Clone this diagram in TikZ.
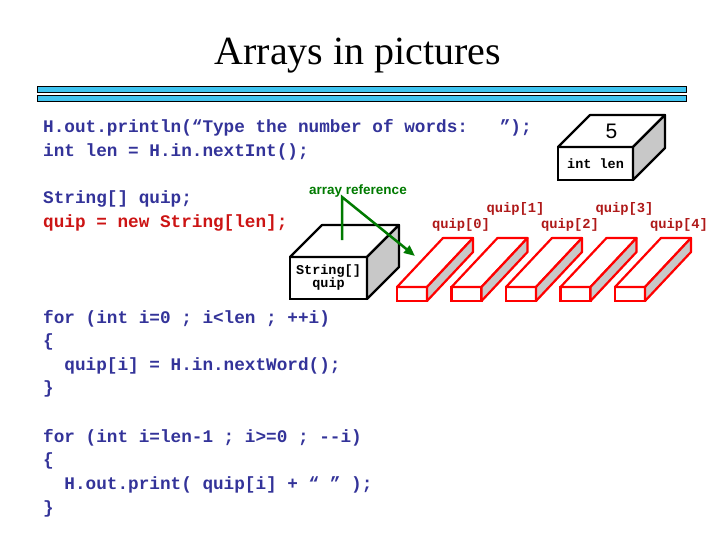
\documentclass[tikz,border=0pt]{standalone}
\usepackage{fontspec}
\setmainfont{Liberation Serif}
\setsansfont{Liberation Sans}
\setmonofont{Liberation Mono}
\usepackage{tikz}
\usetikzlibrary{arrows.meta}
\definecolor{codeblue}{RGB}{51,51,153}
\definecolor{codered}{RGB}{204,20,20}
\definecolor{labelred}{RGB}{175,25,25}
\definecolor{refgreen}{RGB}{0,122,0}
\definecolor{barblue}{RGB}{64,196,240}
\definecolor{sidegray}{RGB}{200,200,200}
\tikzset{
  codeline/.style={
    anchor=base west,
    inner sep=0pt,
    text=codeblue,
    font=\ttfamily\bfseries\fontsize{17.7}{23.7}\selectfont
  },
  barrule/.style={
    draw,
    line width=1pt,
    fill=barblue
  },
  varfront/.style={
    draw,
    line width=2.2pt,
    fill=white,
    align=center,
    inner sep=0pt,
    outer sep=0pt,
    font=\ttfamily\bfseries\fontsize{13.5}{13}\selectfont
  },
  varface/.style={
    draw,
    line width=2.2pt,
    line join=round,
    fill=white
  },
  cellfront/.style={
    draw=red,
    line width=2.2pt,
    fill=white,
    minimum width=30pt,
    minimum height=14pt,
    inner sep=0pt,
    outer sep=0pt
  },
  cellface/.style={
    draw=red,
    line width=2.2pt,
    line join=round,
    fill=white
  },
  celllabel/.style={
    anchor=base,
    inner sep=0pt,
    text=labelred,
    font=\ttfamily\bfseries\fontsize{13.8}{14}\selectfont
  },
  reflabel/.style={
    anchor=base,
    inner sep=0pt,
    text=refgreen,
    font=\sffamily\bfseries\fontsize{13.5}{14}\selectfont
  },
  refline/.style={
    draw=refgreen,
    line width=2.5pt,
    -{Triangle[length=11pt,width=9pt]}
  }
}

\begin{document}
\begin{tikzpicture}[x=1pt,y=-1pt]
  \useasboundingbox (0,0) rectangle (720,540);

  % title and rules
  \node[anchor=base, inner sep=0pt, font=\fontsize{40}{40}\selectfont] (title) at (358,65) {Arrays in pictures};
  \draw[barrule] (37,87) rectangle (686,93);
  \draw[barrule] (37,96) rectangle (686,102);

  % code
  \node[codeline] (ln1) at (43,133) {H.out.println(“Type the number of words:\ \ \ ”);};
  \node[codeline] (ln2) at (43,157) {int len = H.in.nextInt();};
  \node[codeline] (ln3) at (43,204) {String[] quip;};
  \node[codeline, text=codered] (ln4) at (43,228) {quip = new String[len];};
  \node[codeline] (ln5) at (43,323) {for (int i=0 ; i<len ; ++i)};
  \node[codeline] (ln6) at (43,346) {\{};
  \node[codeline] (ln7) at (43,370) {\ \ quip[i] = H.in.nextWord();};
  \node[codeline] (ln8) at (43,393) {\}};
  \node[codeline] (ln9) at (43,442) {for (int i=len-1 ; i>=0 ; -{}-i)};
  \node[codeline] (ln10) at (43,465) {\{};
  \node[codeline] (ln11) at (43,489) {\ \ H.out.print( quip[i] + “ ” );};
  \node[codeline] (ln12) at (43,513) {\}};

  % int len box
  \node[varfront, minimum width=75pt, minimum height=33pt] (lenbox) at (595.5,163.5) {int len};
  \draw[varface] (lenbox.north west) -- ([shift={(32,-32)}]lenbox.north west)
    -- ([shift={(32,-32)}]lenbox.north east) -- (lenbox.north east) -- cycle;
  \draw[varface, fill=sidegray] (lenbox.north east) -- ([shift={(32,-32)}]lenbox.north east)
    -- ([shift={(32,-32)}]lenbox.south east) -- (lenbox.south east) -- cycle;
  \node[inner sep=0pt, font=\sffamily\fontsize{21}{21}\selectfont] (lenval) at ([shift={(16,-16)}]lenbox.north) {5};

  % String[] quip box
  \node[varfront, minimum width=77pt, minimum height=42pt] (strbox) at (328.5,278) {String[]\\quip};
  \draw[varface] (strbox.north west) -- ([shift={(32,-32)}]strbox.north west)
    -- ([shift={(32,-32)}]strbox.north east) -- (strbox.north east) -- cycle;
  \draw[varface, fill=sidegray] (strbox.north east) -- ([shift={(32,-32)}]strbox.north east)
    -- ([shift={(32,-32)}]strbox.south east) -- (strbox.south east) -- cycle;

  % array cells
  \foreach \i/\cx/\ly in {0/397/229,1/451.5/213,2/506/229,3/560.5/213,4/615/229} {
    \node[cellfront, anchor=north west] (cell\i) at (\cx,287) {};
    \draw[cellface] (cell\i.north west) -- ([shift={(46,-49)}]cell\i.north west)
      -- ([shift={(46,-49)}]cell\i.north east) -- (cell\i.north east) -- cycle;
    \draw[cellface, fill=sidegray] (cell\i.north east) -- ([shift={(46,-49)}]cell\i.north east)
      -- ([shift={(46,-49)}]cell\i.south east) -- (cell\i.south east) -- cycle;
    \node[celllabel] (lab\i) at (\cx+64,\ly) {quip[\i]};
  }

  % array reference
  \node[reflabel] (arrref) at (358,195) {array reference};
  \coordinate (reftail) at ([shift={(13.5,-17)}]strbox.north);
  \coordinate (refbend) at (342,197);
  \draw[refline] (reftail) -- (refbend) -- ([shift={(18,-31)}]cell0.north west);
\end{tikzpicture}
\end{document}
